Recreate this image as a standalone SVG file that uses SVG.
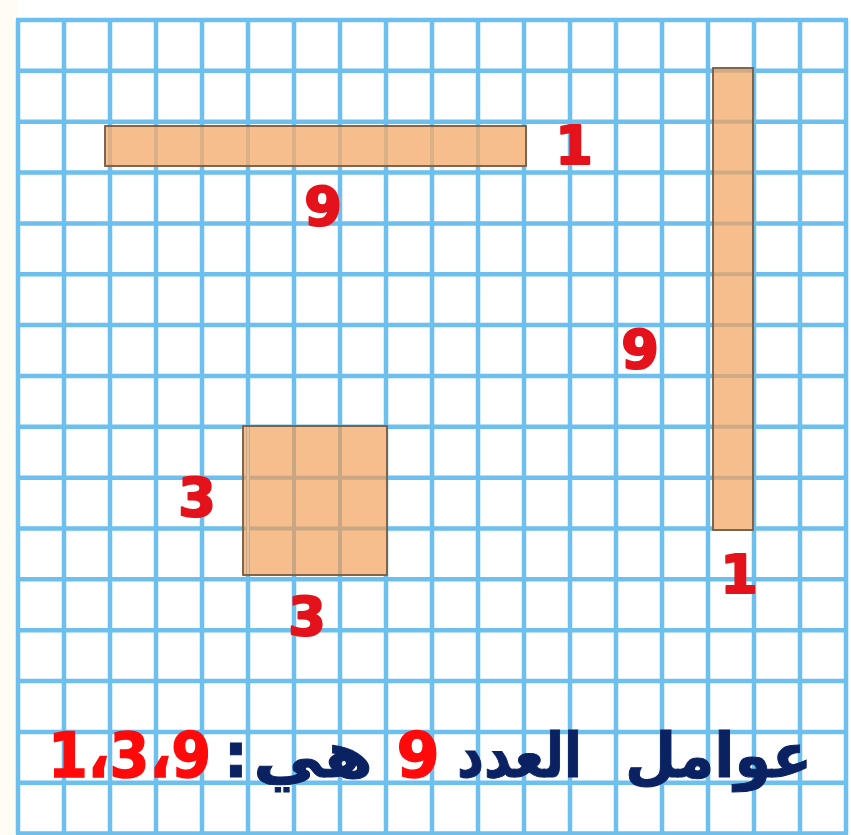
<svg xmlns="http://www.w3.org/2000/svg" width="851" height="835" viewBox="0 0 851 835">
<style>
.grid{stroke:#6DC0EE;stroke-width:4.5;fill:none}
.bar{fill:#F5BE8C;stroke:#7A5E44;stroke-width:1.5}
.inner{stroke:#C9A684;stroke-width:4;fill:none}
.num{font-family:"DejaVu Sans","Liberation Sans",sans-serif;font-weight:bold;font-size:54px;fill:#E4121B;stroke:#E4121B;stroke-width:2.2;stroke-linejoin:round;text-anchor:middle}
.ar{font-family:"DejaVu Sans","Noto Sans",sans-serif;font-weight:bold;font-size:62px}
.navy{fill:#0B2262;stroke:#0B2262;stroke-width:1}
.red{fill:#FF0A0A;stroke:#FF0A0A;stroke-width:1.5}
</style>
<rect x="0" y="0" width="851" height="835" fill="#FFFFFF"/>
<rect x="0" y="0" width="18" height="835" fill="#FFFCF3"/>
<g id="grid">
<path class="grid" d="M18,20V834M64,20V834M110,20V834M156,20V834M202,20V834M248,20V834M294,20V834M340,20V834M386,20V834M432,20V834M478,20V834M524,20V834M570,20V834M616,20V834M662,20V834M708,20V834M754,20V834M800,20V834M846,20V834"/>
<path class="grid" d="M16,20H848M16,70.85H848M16,121.7H848M16,172.55H848M16,223.4H848M16,274.25H848M16,325.1H848M16,375.95H848M16,426.8H848M16,477.65H848M16,528.5H848M16,579.35H848M16,630.2H848M16,681.05H848M16,731.9H848M16,782.75H848M16,833.6H848"/>
</g>
<g id="bar-1x9">
<rect class="bar" x="105" y="126" width="421" height="40"/>
<path class="inner" d="M110,127V165M156,127V165M202,127V165M248,127V165M294,127V165M340,127V165M386,127V165M432,127V165M478,127V165" opacity="0.6"/>
<rect class="bar" x="105" y="126" width="421" height="40" style="fill:none"/>
</g>
<g id="bar-9x1">
<rect class="bar" x="713" y="68" width="40" height="462"/>
<path class="inner" d="M714,70.85H752M714,121.7H752M714,172.55H752M714,223.4H752M714,274.25H752M714,325.1H752M714,375.95H752M714,426.8H752M714,477.65H752" opacity="0.85"/>
<rect class="bar" x="713" y="68" width="40" height="462" style="fill:none"/>
</g>
<g id="square-3x3">
<rect class="bar" x="243" y="426" width="144" height="149"/>
<path class="inner" d="M248,427V574M294,427V574M340,427V574M244,477.65H386M244,528.5H386"/>
<path d="M248,427V574" stroke="#F8D2AE" stroke-width="2" fill="none" opacity="0.6"/>
<rect class="bar" x="243" y="426" width="144" height="149" style="fill:none"/>
</g>
<g id="labels">
<text class="num" x="574" y="164">1</text>
<text class="num" x="323" y="225">9</text>
<text class="num" x="640" y="368">9</text>
<text class="num" x="739" y="593">1</text>
<text class="num" x="197" y="516">3</text>
<text class="num" x="307" y="635">3</text>
</g>
<g id="caption">
<text class="ar navy" x="625" y="777" textLength="187" lengthAdjust="spacingAndGlyphs">عوامل</text>
<text class="ar navy" x="457" y="777" textLength="125" lengthAdjust="spacingAndGlyphs">العدد</text>
<text class="ar red" x="418" y="777" text-anchor="middle">9</text>
<text class="ar navy" x="253" y="777" textLength="120" lengthAdjust="spacingAndGlyphs">هي</text>
<text class="ar navy" x="236" y="777" text-anchor="middle">:</text>
<text class="ar red" x="48" y="777" textLength="163" lengthAdjust="spacingAndGlyphs">1،3،9</text>
</g>
</svg>
